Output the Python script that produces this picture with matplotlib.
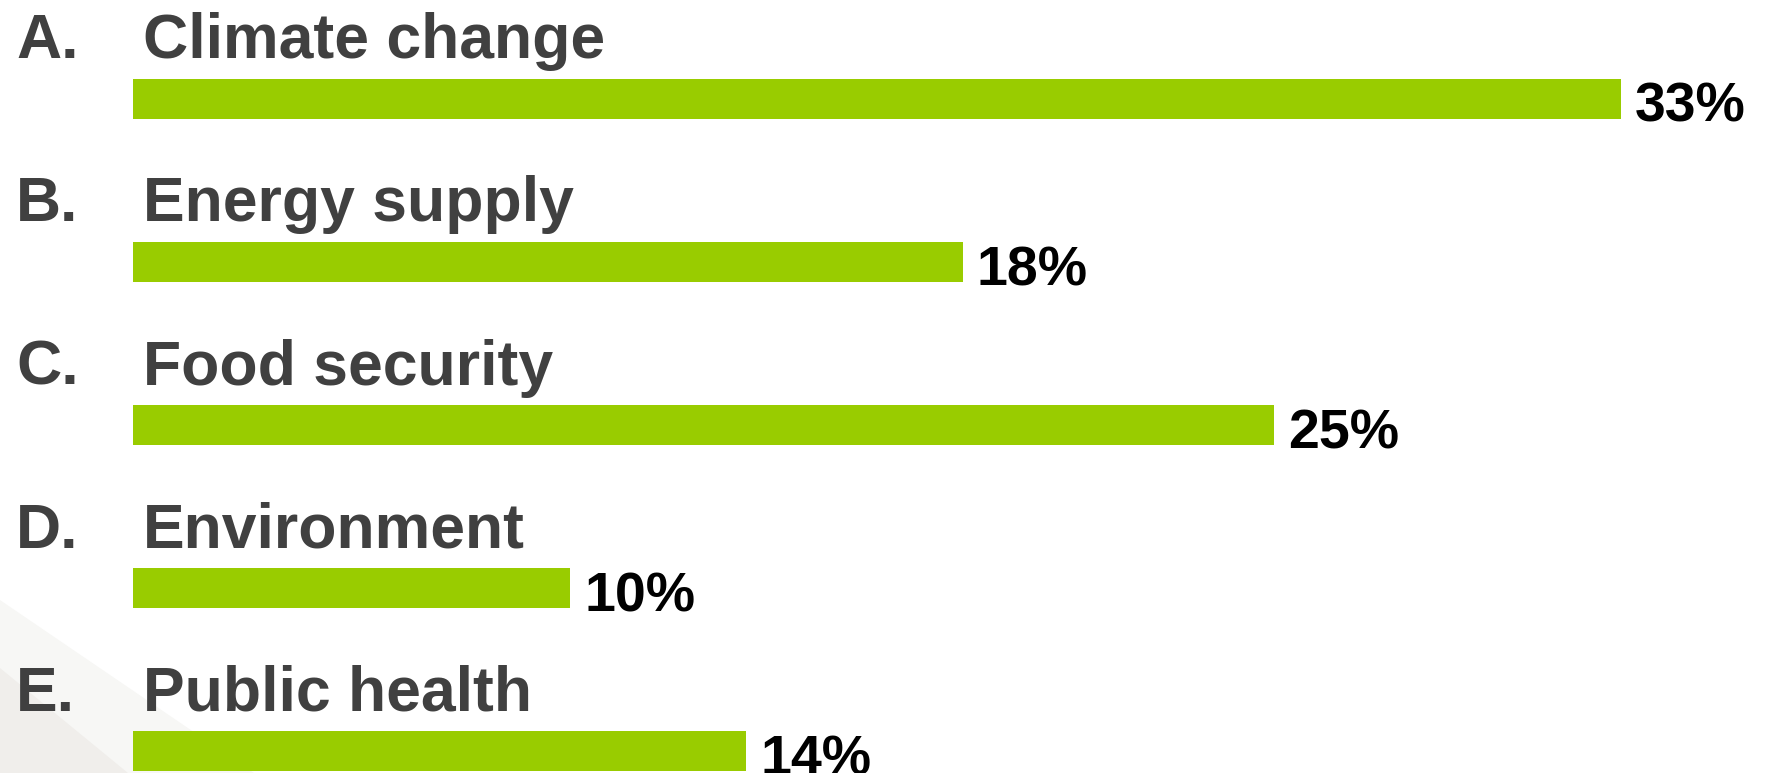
import matplotlib
matplotlib.use("Agg")
import matplotlib.pyplot as plt
from matplotlib.patches import Polygon
from matplotlib.transforms import blended_transform_factory

letters = ["A.", "B.", "C.", "D.", "E."]
categories = ["Climate change", "Energy supply", "Food security", "Environment", "Public health"]
shares = [33.0, 18.4, 25.3, 9.7, 13.6]
share_labels = ["33%", "18%", "25%", "10%", "14%"]

bar_color = "#99cc00"
text_color = "#404040"

W, H = 1768, 773
fig = plt.figure(figsize=(W / 100, H / 100), dpi=100)
fig.patch.set_facecolor("white")

ax = fig.add_axes([0, 0, 1, 1])
ax.patch.set_alpha(0)
ax.set_axis_off()

# faint slide background in the lower-left corner (axes fractions)
ax.add_patch(Polygon([(0, (H - 600) / H), (254 / W, 0), (0, 0)], closed=True,
                     transform=ax.transAxes, facecolor="#f7f7f5", edgecolor="none", zorder=0))
ax.add_patch(Polygon([(0, (H - 668) / H), (128 / W, 0), (0, 0)], closed=True,
                     transform=ax.transAxes, facecolor="#f0eeeb", edgecolor="none", zorder=0.5))

px_per_unit = 45.1
x0 = 133
ax.set_xlim(-x0 / px_per_unit, (W - x0) / px_per_unit)
row = 163.2
top = 98.5
ax.set_ylim((H - top) / row, -top / row)

ypos = list(range(len(categories)))
ax.barh(ypos, shares, height=40 / row, color=bar_color, left=0, zorder=2)

tr = blended_transform_factory(ax.transAxes, ax.transData)
for y, letter, cat, v, lab in zip(ypos, letters, categories, shares, share_labels):
    ax.text(16 / W, y - 0.247, letter, transform=tr, ha="left", va="baseline",
            fontsize=45, fontweight="bold", color=text_color, family="Liberation Sans", zorder=3)
    ax.text(143 / W, y - 0.247, cat, transform=tr, ha="left", va="baseline",
            fontsize=45, fontweight="bold", color=text_color, family="Liberation Sans", zorder=3)
    ax.annotate(lab, xy=(v, y + 0.143), xytext=(10, 0), textcoords="offset points",
                ha="left", va="baseline", fontsize=40, fontweight="bold",
                color="black", family="Liberation Sans", zorder=3, annotation_clip=False)

fig.savefig("out.png", dpi=100)
